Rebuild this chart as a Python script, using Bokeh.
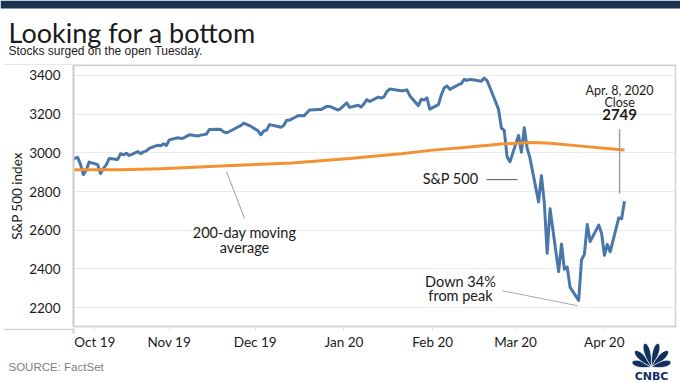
import numpy as np
import pandas as pd
from bokeh.plotting import figure
from bokeh.layouts import column
from bokeh.models import Range1d, FixedTicker, Label
from bokeh.embed import file_html
from bokeh.resources import INLINE

# ---------------- data ----------------
holidays = ["2019-11-28", "2019-12-25", "2020-01-01", "2020-01-20", "2020-02-17"]
spx_close = [
    2961.79, 2976.74,
    2940.25, 2887.61, 2910.63, 2952.01, 2938.79, 2893.06, 2919.40, 2938.13, 2970.27, 2966.15,
    2995.68, 2989.69, 2997.95, 2986.20, 3006.72, 2995.99, 3004.52, 3010.29, 3022.55, 3039.42,
    3036.89, 3046.77, 3037.56,
    3066.91, 3078.27, 3074.62, 3076.78, 3085.18, 3093.08, 3087.01, 3091.84, 3094.04, 3096.63,
    3120.46, 3122.03, 3120.18, 3108.46, 3103.54, 3110.29, 3133.64, 3140.52, 3153.63, 3140.98,
    3113.87, 3093.20, 3112.76, 3117.43, 3145.91, 3135.96, 3132.52, 3141.63, 3168.57, 3168.80,
    3191.45, 3192.52, 3191.14, 3205.37, 3221.22, 3224.01, 3223.38, 3239.91, 3240.02, 3221.29,
    3230.78,
    3257.85, 3234.85, 3246.28, 3237.18, 3253.05, 3274.70, 3265.35, 3288.13, 3283.15, 3289.29,
    3316.81, 3329.62, 3320.79, 3321.75, 3325.54, 3295.47, 3243.63, 3276.24, 3273.40, 3283.66,
    3225.52,
    3248.92, 3297.59, 3334.69, 3345.78, 3327.71, 3352.09, 3357.75, 3379.45, 3373.94, 3380.16,
    3370.29, 3386.15, 3373.23, 3337.75, 3225.89, 3128.21, 3116.39, 2978.76, 2954.22,
    3090.23, 3003.37, 3130.12, 3023.94, 2972.37, 2746.56, 2882.23, 2741.38, 2480.64, 2711.02,
    2386.13, 2529.19, 2398.10, 2409.39, 2304.92, 2237.40, 2447.33, 2475.56, 2630.07, 2541.47,
    2626.65, 2584.59,
    2470.50, 2526.90, 2488.65, 2663.68, 2659.41, 2749.98,
]
spx_dates = pd.bdate_range("2019-09-27", "2020-04-08", freq="C", holidays=holidays)
assert len(spx_dates) == len(spx_close)

ma_dates = pd.to_datetime([
    "2019-09-27", "2019-10-15", "2019-10-29", "2019-11-21", "2019-12-14", "2020-01-04",
    "2020-01-14", "2020-01-21", "2020-02-01", "2020-02-13", "2020-02-25", "2020-03-07",
    "2020-03-13", "2020-03-23", "2020-04-01", "2020-04-08",
])
ma_values = [2912, 2913, 2918, 2933, 2948, 2972, 2986, 2995, 3014, 3029, 3046, 3053,
             3050, 3036, 3024, 3015]

y_ticks = [2200, 2400, 2600, 2800, 3000, 3200, 3400]
x_tick_dates = pd.to_datetime(["2019-10-06", "2019-11-01", "2019-12-01", "2020-01-01",
                               "2020-02-01", "2020-03-01", "2020-04-01"])
x_tick_labels = ["Oct 19", "Nov 19", "Dec 19", "Jan 20", "Feb 20", "Mar 20", "Apr 20"]

def ms(ts):
    return pd.Timestamp(ts).value / 1e6

TXT = "#1a1a1a"
NAVY = "#1b3353"
LOGO = "#12305e"
BLUE = "#4a77aa"
ORANGE = "#f39232"
RULE = "#d2d2d2"
AXIS = "#cfcfcf"
W = 680

def blank_fig(h, transparent=False):
    f = figure(width=W, height=h, x_range=Range1d(0, W), y_range=Range1d(h, 0),
               output_backend="svg", toolbar_location=None, title=None,
               x_axis_location=None, y_axis_location=None, min_border=0,
               frame_align=False)
    f.grid.grid_line_color = None
    f.outline_line_color = None
    if transparent:
        f.background_fill_color = None
        f.border_fill_color = None
    return f

# ---------------- header ----------------
hdr = blank_fig(65)
hdr.quad(left=[0], right=[W], top=[0], bottom=[8], fill_color=NAVY, line_color=None)
hdr.quad(left=[3], right=[675], top=[64], bottom=[65], fill_color=RULE, line_color=None)
hdr.add_layout(Label(x=8, y=32, text="Looking for a bottom", text_font="Lato",
                     text_font_size="27px", text_color=TXT, text_baseline="middle"))
hdr.add_layout(Label(x=8, y=50, text="Stocks surged on the open Tuesday.",
                     text_font="Liberation Sans", text_font_size="12px", text_color=TXT,
                     text_baseline="middle"))

# ---------------- main chart ----------------
p = figure(width=W, height=287, x_axis_type="datetime",
           x_range=Range1d(ms("2019-09-28 13:20"), ms("2020-04-25 19:40")),
           y_range=Range1d(2102.6, 3451.3),
           output_backend="svg", toolbar_location=None, title=None,
           min_border_left=73, min_border_right=5, min_border_top=0, min_border_bottom=24,
           frame_align=False)
p.background_fill_color = "white"
p.border_fill_color = "white"
p.outline_line_color = RULE
p.outline_line_width = 1.5

p.xgrid.grid_line_color = None
p.ygrid.grid_line_color = "#ebebeb"
p.ygrid.grid_line_width = 1

yax = p.yaxis[0]
yax.ticker = FixedTicker(ticks=y_ticks)
yax.axis_line_color = AXIS
yax.axis_line_width = 2
yax.major_tick_line_color = None
yax.minor_tick_line_color = None
yax.major_label_standoff = 7
yax.major_label_text_font = "Lato"
yax.major_label_text_font_size = "13.5px"
yax.major_label_text_color = TXT
yax.axis_label = "S&P 500 index"
yax.axis_label_text_font = "Lato"
yax.axis_label_text_font_size = "13.5px"
yax.axis_label_text_font_style = "normal"
yax.axis_label_text_color = TXT
yax.axis_label_standoff = 1

xax = p.xaxis[0]
x_ms = [ms(d) for d in x_tick_dates]
xax.ticker = FixedTicker(ticks=x_ms)
xax.major_label_overrides = {v: t for v, t in zip(x_ms, x_tick_labels)}
xax.axis_line_color = RULE
xax.axis_line_width = 1.5
xax.major_tick_line_color = "#e2e2e2"
xax.major_tick_out = 4
xax.major_tick_in = 0
xax.minor_tick_line_color = None
xax.major_label_standoff = 3
xax.major_label_text_font = "Lato"
xax.major_label_text_font_size = "13.5px"
xax.major_label_text_color = TXT

p.line(x=spx_dates, y=spx_close, line_color=BLUE, line_width=3, line_join="round")
p.line(x=ma_dates, y=ma_values, line_color=ORANGE, line_width=3, line_join="round")

# annotation leaders
p.segment(x0=[ms("2020-02-19 19:00")], y0=[2861.5], x1=[ms("2020-03-01 14:00")], y1=[2861.5],
          line_color="#555555", line_width=1)
p.segment(x0=[ms("2019-11-21")], y0=[2902.6], x1=[ms("2019-11-27 07:00")], y1=[2661.5],
          line_color="#9a9a9a", line_width=1)
p.segment(x0=[ms("2020-04-06 07:00")], y0=[3123], x1=[ms("2020-04-06 07:00")], y1=[2790],
          line_color="#a0a0a0", line_width=1.5)
p.segment(x0=[ms("2020-02-25 10:00")], y0=[2287], x1=[ms("2020-03-22 14:00")], y1=[2210],
          line_color="#a8a8a8", line_width=1)

def dlabel(x, y, text, size="14.5px", align="center", style="normal"):
    p.add_layout(Label(x=ms(x), y=y, text=text, text_font="Lato", text_font_size=size,
                       text_color=TXT, text_align=align, text_baseline="middle",
                       text_font_style=style))

dlabel("2020-02-17", 2866.7, "S&P 500", align="right")
dlabel("2019-11-27 07:00", 2589.7, "200-day moving")
dlabel("2019-11-27 07:00", 2512.8, "average")
dlabel("2020-04-06 07:00", 3323, "Apr. 8, 2020", size="12.5px")
dlabel("2020-04-06 07:00", 3261.5, "Close", size="12.5px")
dlabel("2020-04-06 07:00", 3200, "2749", size="15px", style="bold")
dlabel("2020-02-10 17:00", 2333, "Down 34%")
dlabel("2020-02-10 17:00", 2261.5, "from peak")

# ---------------- footer (transparent, overlaps the x-axis band) ----------------
FH = 54
ftr = blank_fig(FH, transparent=True)
ftr.margin = (-24, 0, 0, 0)
ftr.quad(left=[3], right=[74], top=[0], bottom=[1.5], fill_color=RULE, line_color=None)
ftr.quad(left=[72], right=[74], top=[0], bottom=[5], fill_color=AXIS, line_color=None)
ftr.add_layout(Label(x=8, y=38, text="SOURCE: FactSet", text_font="Liberation Sans",
                     text_font_size="11.5px", text_color="#808080", text_baseline="middle"))

def feather(bx, by, ang_deg, L, w, n=40):
    a = np.radians(ang_deg)
    t = np.linspace(0, 2 * np.pi, n)
    u = L / 2 * (1 - np.cos(t))
    v = w / 2 * np.sin(t) * np.sqrt(u / L)
    dx, dy = np.sin(a), -np.cos(a)
    return bx + u * dx - v * dy, by + u * dy + v * dx

fxs, fys = [], []
for ang, L in zip([-76, -46, -16, 16, 46, 76], [20, 23, 24.5, 24.5, 23, 20]):
    fx, fy = feather(651, 38.5, ang, L, 8.5)
    fxs.append(list(fx))
    fys.append(list(fy))
ftr.patches(xs=fxs, ys=fys, fill_color=LOGO, line_color="white", line_width=0.8)
ftr.add_layout(Label(x=651, y=47.5, text="CNBC", text_font="DejaVu Sans", text_font_size="11px",
                     text_color=LOGO, text_font_style="bold", text_align="center",
                     text_baseline="middle"))

layout = column(hdr, p, ftr, spacing=0)
open("out.html", "w").write(file_html(layout, INLINE))
